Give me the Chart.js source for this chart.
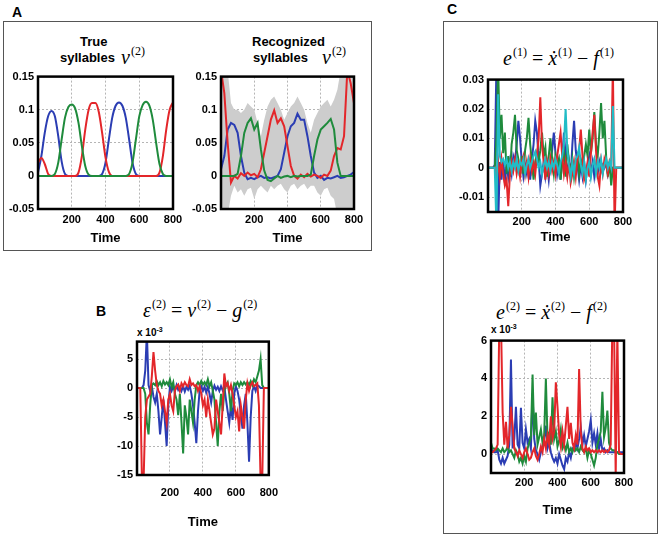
<!DOCTYPE html>
<html><head><meta charset="utf-8">
<script src="https://cdn.jsdelivr.net/npm/chart.js@4.4.1/dist/chart.umd.min.js"></script>
<style>
body{margin:0;background:#fff;width:661px;height:536px;position:relative;overflow:hidden;font-family:"Liberation Sans",Arial,sans-serif}
canvas{position:absolute}
.frame{position:absolute;border:1px solid #555}
.lbl{position:absolute;font-weight:bold;font-size:14px;line-height:16px}
.t{position:absolute;font-weight:bold;font-size:13px;white-space:nowrap;line-height:15px}
.m{position:absolute;font-family:"Liberation Serif","DejaVu Serif",serif;white-space:nowrap;font-size:20px;line-height:22px}
.m sup{font-size:12px;vertical-align:0;position:relative;top:-9px;margin-left:1px}
.exp{position:absolute;font-weight:bold;font-size:10px;white-space:nowrap;line-height:12px}
.exp sup{font-size:7px;vertical-align:0;position:relative;top:-4px}
</style></head>
<body>
<div class="frame" style="left:3px;top:21px;width:367px;height:228px"></div>
<div class="frame" style="left:443px;top:21px;width:213px;height:511px"></div>
<div class="lbl" style="left:12px;top:4px">A</div>
<div class="lbl" style="left:96px;top:303px">B</div>
<div class="lbl" style="left:447px;top:1px">C</div>
<div class="t" style="left:80px;top:34px">True</div>
<div class="t" style="left:60px;top:50px">syllables</div>
<div class="m" style="left:121px;top:46px"><i>ν</i><sup>(2)</sup></div>
<div class="t" style="left:252px;top:34px">Recognized</div>
<div class="t" style="left:253px;top:50px">syllables</div>
<div class="m" style="left:322px;top:46px"><i>ν</i><sup>(2)</sup></div>
<div class="m" style="left:143px;top:299px"><i>ε</i><sup>(2)</sup> = <i>ν</i><sup>(2)</sup> − <i>g</i><sup>(2)</sup></div>
<div class="m" style="left:503px;top:47px"><i>e</i><sup>(1)</sup> = <i>ẋ</i><sup>(1)</sup> − <i>f</i><sup>(1)</sup></div>
<div class="m" style="left:496px;top:301px"><i>e</i><sup>(2)</sup> = <i>ẋ</i><sup>(2)</sup> − <i>f</i><sup>(2)</sup></div>
<div class="exp" style="left:137px;top:327px">x 10<sup>-3</sup></div>
<div class="exp" style="left:491px;top:324px">x 10<sup>-3</sup></div>
<script>
// ---------- DATA ----------
const tA = [0,20,40,60,80,100,120,140,160,180,200,220,240,260,280,300,320,340,360,380,400,420,440,460,480,500,520,540,560,580,600,620,640,660,680,700,720,740,760,780,800];
const tF = [0,10,20,30,40,50,60,70,80,90,100,110,120,130,140,150,160,170,180,190,200,210,220,230,240,250,260,270,280,290,300,310,320,330,340,350,360,370,380,390,400,410,420,430,440,450,460,470,480,490,500,510,520,530,540,550,560,570,580,590,600,610,620,630,640,650,660,670,680,690,700,710,720,730,740,750,760,770,780,790,800];
const xTicks = [200,400,600,800];

// A left: true syllables
const blueTrue  = [0.005,0.03,0.065,0.09,0.098,0.09,0.06,0.022,0.003,0,0,0,0,0,0,0,0,0,0,0.003,0.02,0.055,0.088,0.106,0.111,0.106,0.088,0.055,0.02,0.003,0,0,0,0,0,0,0,0,0,0,0];
const greenTrue = [0,0,0,0,0,0.003,0.02,0.055,0.088,0.104,0.108,0.102,0.08,0.045,0.015,0.002,0,0,0,0,0,0,0,0,0,0,0,0.003,0.02,0.055,0.09,0.107,0.112,0.106,0.085,0.05,0.018,0.003,0,0,0];
const redTrue   = [0.02,0.027,0.018,0.003,0,0,0,0,0,0,0,0,0.005,0.03,0.07,0.1,0.11,0.11,0.097,0.065,0.028,0.006,0,0,0,0,0,0,0,0,0,0,0,0,0,0,0.005,0.03,0.07,0.1,0.111];

// A right: recognized syllables
const redRec   = [0.16,0.125,0.05,-0.01,0,-0.004,0.004,0,0.005,0.001,0.003,-0.002,0.01,0.035,0.06,0.085,0.099,0.08,0.087,0.075,0.045,0.015,0,-0.004,0.002,-0.002,0.003,-0.001,0.002,0,-0.003,0.002,0,0.008,0.03,0.042,0.04,0.06,0.16,0.14,0.11];
const blueRec  = [0.01,0.03,0.07,0.08,0.077,0.065,0.03,0.005,-0.005,-0.003,-0.005,-0.002,0,-0.003,-0.002,-0.004,-0.002,0,0.01,0.035,0.06,0.075,0.08,0.094,0.085,0.085,0.06,0.03,0.005,-0.003,0,-0.006,-0.003,-0.004,-0.002,0,-0.003,-0.002,0,0.002,0.006];
const greenRec = [0,0,0,0,0,0.003,0.03,0.065,0.08,0.087,0.07,0.08,0.04,0.008,-0.006,-0.008,-0.004,0,-0.003,-0.001,0,-0.002,0,-0.001,0,0,0,0.002,0.03,0.055,0.07,0.075,0.08,0.086,0.07,0.02,0,0,0,0,0];
const bandUpper = [0.16,0.16,0.16,0.11,0.1,0.1,0.095,0.1,0.11,0.105,0.1,0.08,0.06,0.085,0.105,0.115,0.12,0.11,0.1,0.085,0.095,0.105,0.11,0.12,0.11,0.1,0.08,0.065,0.085,0.095,0.105,0.11,0.115,0.105,0.115,0.13,0.16,0.16,0.16,0.16,0.16];
const bandLower = [-0.06,-0.06,-0.06,-0.03,-0.015,-0.025,-0.02,-0.03,-0.02,-0.018,-0.035,-0.02,-0.015,-0.02,-0.025,-0.015,-0.02,-0.015,-0.012,-0.02,-0.025,-0.015,-0.012,-0.02,-0.015,-0.012,-0.02,-0.015,-0.015,-0.025,-0.03,-0.02,-0.018,-0.03,-0.035,-0.06,-0.06,-0.06,-0.06,-0.06,-0.06];

// B: epsilon (x 1e-3)
const blueB  = [0,0,0,0,0.5,3,9.5,0.5,-0.5,0.3,-1.5,-2.5,-1,-4,-8,-5,-2,-6,-10,-3,0.2,-0.5,0.3,-0.5,0.5,-0.3,0.2,-0.5,0.3,-0.6,0.2,-0.3,0.4,-1,-3,-6,-9.5,-4,-0.5,0.3,-0.5,0.2,-0.8,0.2,-1,-2.5,-0.5,0.4,-0.3,0.2,-0.5,0.3,-0.4,0.2,-2,-4,-6,-3,-5.5,-1,0.3,-0.5,-2,-4.5,-7,-3,-1,-6,-12.7,-5,-0.5,0.3,-0.5,0.5,0.3,0,0,0,0,0,0];
const greenB = [0,0,0,0,0,-1,-6,-8,-3,0.5,0.8,0.5,1.2,0.5,1,0.3,1.2,0.6,1,0.5,1.5,0.2,1,-1,-2,-4.7,-1,-6,-11.3,-3,-5,-8,-2,-4,-6,-2,0.5,1,0.5,1.2,0.6,1,0.5,1.5,0.3,1,-0.5,-2,-6,-10,-4,-1,-4,-0.5,0.5,1,-1,-4,-0.5,0.8,0.5,1,0.3,1,0.5,1,0.6,1,0.5,1.2,0.5,1.5,1,2,3,5,0.5,0,0,0,0];
const redB   = [0,0,0,-16,-16,-5,-2,-1.5,-1,2,6.2,3,0.5,-0.5,-1,-3,-2,-4,-6,-2,-1,-3,-4,-0.5,0.3,0.6,-0.5,0.8,0.3,1,0.5,0.3,1.5,0.5,0.8,0.3,0.5,-0.5,0.3,-1,-3,-2,-5,-2,-4,-6,-8,-7,-2,-4,-6,-8,-3,2.5,0.3,0.8,-0.5,0.5,-1,-3,-5,-4,-7.5,-3,-5,-7,-2,0.8,-0.5,0.5,1,0.3,0.5,0.8,-3,-16,-16,0,0,0,0];

// C top: e(1)
const blueC1  = [0,0,0,0,0.001,0.035,-0.02,0.002,-0.004,0.003,-0.005,0.001,-0.003,0.002,-0.002,0.004,0.002,0.008,0.016,0.01,0.002,-0.003,0.001,-0.002,0.002,-0.004,0.003,0.008,0.016,0.012,0.003,-0.006,-0.002,0.002,-0.003,0.001,-0.004,0.002,0.006,0.012,0.005,-0.002,0.002,-0.004,0.003,0.012,0.004,-0.002,0.002,-0.003,0.008,0.016,0.006,0.001,-0.004,0.001,-0.003,0.002,-0.004,0.001,0.004,-0.002,0.002,-0.003,0.001,-0.002,0.002,-0.001,0.001,0,0.002,-0.002,0.001,-0.002,0,0,0,0,0,0,0];
const greenC1 = [0,0,0,0,0,0.01,0.035,0.01,0.018,0.005,0.012,-0.002,0.004,-0.003,0.008,0.012,0.018,0.006,0.003,-0.003,0.004,-0.002,0.006,0.01,0.017,0.008,0.002,-0.004,0.002,0.005,0.002,0.006,0.012,0.004,0.007,-0.003,0.004,0.01,0.003,-0.002,0.004,0.001,0.003,-0.004,0.002,0.005,-0.003,0.008,0.002,-0.002,0.003,-0.003,0.002,0.004,-0.002,0.003,0.001,0.004,0.008,0.004,0.013,0.005,0.01,0.019,0.008,0.004,0.012,0.022,0.01,0.016,0.004,-0.003,0.002,-0.006,0,0,0,0,0,0,0];
const redC1   = [0,0,0,0,0,-0.004,0.002,-0.003,0.003,-0.002,-0.006,-0.004,-0.013,-0.002,0.002,-0.001,0.003,-0.002,0.001,-0.003,0.002,0.004,-0.002,0.002,-0.003,0.003,-0.001,0.002,-0.002,0.004,0.01,0.024,0.008,0.002,-0.004,0.002,-0.002,0.003,-0.001,0.002,-0.002,0.004,0.008,0.012,0.004,-0.002,0.002,-0.003,0.002,-0.005,-0.002,0.002,-0.003,0.003,0.006,0.013,0.004,-0.004,-0.002,0.002,-0.003,0.005,0.012,0.018,0.006,-0.003,-0.006,0.002,-0.002,0.003,0.001,-0.002,0.002,0,0.035,-0.02,0,0,0,0,0];
const cyanC1  = [0,0,0,0,0,-0.02,0.025,0.004,0.002,0.003,0.001,0.003,0,0.002,-0.001,0.002,0,0.003,-0.001,0.002,0.001,0.003,-0.002,0.001,0.003,0,0.002,0.004,0.0055,0.003,0,0.002,-0.002,0.001,0.003,0,0.002,-0.001,0.002,0,0.003,0.001,-0.002,0.002,0.004,0.008,0.02,0.006,0.001,-0.003,0.002,-0.002,0.003,0.004,0.007,0.001,-0.002,0.002,-0.004,0,0.002,-0.003,0.001,0.003,-0.002,0.002,0,0.003,-0.002,0.001,0.003,0,0.002,0,0.021,0,0,0,0,0,0];

// C bottom: e(2) (x 1e-3)
const redC2   = [0.1,0.1,0.2,0.3,0.5,7,7,2.2,0.5,1.7,0.3,1,2.5,1.5,0.3,0.1,-0.1,0.2,0,-0.2,0.1,0.3,0,-0.3,-0.2,0.1,0.3,-0.1,-0.3,0,0.4,0.1,0.8,0.3,1,0.5,2,0.8,1.2,3.8,2.5,1,0.4,1.2,0.5,1.5,2.5,0.8,1.65,0.6,0.3,1,0.5,4.5,1.2,0.3,0.1,0.4,0.2,0.3,0.1,0.2,0.1,0.2,0.1,0.2,0.1,0.2,0.1,0.2,0.1,0.2,0.5,7,7,-1.2,6.5,0.1,0,0,0];
const blueC2  = [0.2,0.2,0.1,0.1,0.2,-0.3,-0.5,-0.2,-0.5,-0.3,-0.1,0.5,5,0.3,0.8,2.5,0.5,0.3,2.45,0.6,0.3,1.3,0.6,0.8,0.3,3.2,0.8,0.2,0,-0.3,0.1,0.4,0.8,1.5,0.3,0.6,0.1,-0.2,-0.4,-0.2,-0.5,0,-0.3,-0.6,-0.8,-0.2,-0.4,0.1,-0.2,0.3,0.2,0.6,0.3,0.8,1.4,0.5,1,0.4,0.8,1.2,1.8,0.6,1.1,0.5,1.1,0.3,0.8,0.2,0.3,0.1,0.2,0.1,0.1,0.1,0.1,0.1,0.1,0.1,0.1,0.1,0.1];
const greenC2 = [0.6,0.3,0.3,0.2,0.3,0.2,0.1,0.3,0.1,0.2,0.4,0.1,0.2,0,-0.2,0.2,0,-0.4,-0.2,-0.5,-0.1,-0.4,0.3,0.6,0.9,4.2,1,2.2,0.5,0.9,1.3,0.6,1,4,0.8,1.1,0.5,3,0.8,1.2,0.4,0.7,1.3,0.3,0.5,0.2,0.6,0.1,0.3,0.1,0.4,0.2,0.3,0.1,0.4,0.2,0.1,0.3,-0.2,0.2,0,-0.3,-0.6,-0.2,0.5,0.8,1.2,3.3,0.9,1.4,2.3,0.6,0.3,0.2,0.2,0.1,0.1,0,0,0,0];

// ---------- STYLE ----------
const BLUE='#2b3db3', GREEN='#1f8b3c', RED='#e3262a', CYAN='#21bcc6', GRAY='#cdcdcd';

const framePlugin = {
  id:'plotFrame',
  afterDatasetsDraw(chart){
    const {ctx, chartArea:a} = chart;
    ctx.save(); ctx.strokeStyle='#000'; ctx.lineWidth=2.5;
    ctx.strokeRect(a.left, a.top, a.right-a.left, a.bottom-a.top);
    ctx.restore();
  }
};
function fmt(v){ return v===0 ? '0' : String(parseFloat(v.toFixed(4))); }
function pts(ts, arr){ return ts.map((t,i)=>({x:t, y:arr[i]})); }
function line(ts, arr, color, order, extra){
  return Object.assign({data:pts(ts,arr), borderColor:color, backgroundColor:color, borderWidth:2, pointRadius:0, fill:false, tension:0, order:order}, extra||{});
}
const tickFont = {family:'Liberation Sans', weight:'bold', size:11};

function makeChart(geo, datasets, yopt){
  const yW=36, padT=10, padR=18;
  const w=(geo.R-geo.L)+yW+padR, h=(geo.B-geo.T)+padT+geo.xH;
  const c=document.createElement('canvas');
  c.width=w; c.height=h;
  c.style.left=(geo.L-yW)+'px'; c.style.top=(geo.T-padT)+'px';
  c.style.width=w+'px'; c.style.height=h+'px';
  document.body.appendChild(c);
  return new Chart(c, {
    type:'line',
    data:{datasets},
    options:{
      responsive:false, animation:false, devicePixelRatio:1,
      layout:{padding:{top:padT, right:padR, left:0, bottom:0}},
      plugins:{legend:{display:false}, tooltip:{enabled:false}},
      scales:{
        x:{type:'linear', min:0, max:800,
          afterFit(s){ s.height=geo.xH; },
          afterBuildTicks(s){ s.ticks=[0].concat(xTicks).map(v=>({value:v})); },
          ticks:{padding:geo.xPad, color:'#000', font:tickFont, maxRotation:0, autoSkip:false,
                 callback:v=> v===0 ? '' : String(v)},
          grid:{color:'#b5b5b5', lineWidth:1, drawTicks:false},
          border:{display:false, dash:[2,2]},
          title:{display:true, text:'Time', color:'#000', padding:0,
                 font:{family:'Liberation Sans', weight:'bold', size:13}}},
        y:{type:'linear', min:yopt.min, max:yopt.max,
          afterFit(s){ s.width=yW; },
          ticks:{stepSize:yopt.step, includeBounds:false, padding:4, color:'#000', font:tickFont,
                 callback:v=>fmt(v)},
          grid:{color:'#b5b5b5', lineWidth:1, drawTicks:false},
          border:{display:false, dash:[2,2]}}
      }
    },
    plugins:[framePlugin]
  });
}

// A left
makeChart({L:38,T:76,R:173,B:209,xH:37,xPad:4}, [
  line(tA, blueTrue, BLUE, 3, {cubicInterpolationMode:'monotone'}),
  line(tA, redTrue, RED, 2, {cubicInterpolationMode:'monotone'}),
  line(tA, greenTrue, GREEN, 1, {cubicInterpolationMode:'monotone'})
], {min:-0.05, max:0.15, step:0.05});

// A right
makeChart({L:221,T:76,R:354,B:209,xH:37,xPad:4}, [
  {data:pts(tA,bandUpper), borderWidth:0, pointRadius:0, fill:'+1', backgroundColor:GRAY, borderColor:GRAY, order:10},
  {data:pts(tA,bandLower), borderWidth:0, pointRadius:0, fill:false, borderColor:GRAY, order:11},
  line(tA, blueRec, BLUE, 3),
  line(tA, redRec, RED, 2),
  line(tA, greenRec, GREEN, 1)
], {min:-0.05, max:0.15, step:0.05});

// B
makeChart({L:137,T:341,R:271,B:475,xH:55,xPad:11}, [
  line(tF, blueB, BLUE, 3),
  line(tF, greenB, GREEN, 2),
  line(tF, redB, RED, 1)
], {min:-15, max:8, step:5});

// C top
makeChart({L:488,T:79,R:623,B:212,xH:33,xPad:3}, [
  line(tF, blueC1, BLUE, 4),
  line(tF, greenC1, GREEN, 3),
  line(tF, redC1, RED, 2),
  line(tF, cyanC1, CYAN, 1)
], {min:-0.015, max:0.03, step:0.01});

// C bottom
makeChart({L:491,T:340,R:624,B:473,xH:45,xPad:3}, [
  line(tF, blueC2, BLUE, 3),
  line(tF, greenC2, GREEN, 2),
  line(tF, redC2, RED, 1)
], {min:-1, max:6, step:2});
</script>
</body></html>
